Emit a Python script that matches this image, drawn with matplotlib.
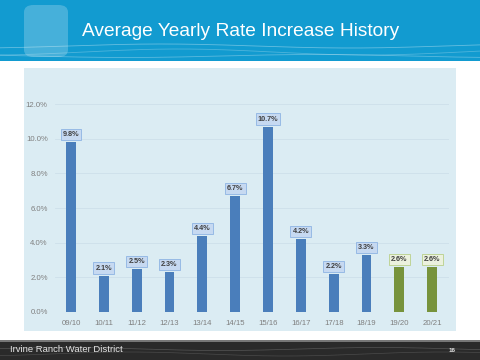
import matplotlib
matplotlib.use("Agg")
import matplotlib.pyplot as plt
from matplotlib.patches import Rectangle, FancyBboxPatch
import numpy as np

categories = ["09/10", "10/11", "11/12", "12/13", "13/14", "14/15", "15/16",
              "16/17", "17/18", "18/19", "19/20", "20/21"]
values = [9.8, 2.1, 2.5, 2.3, 4.4, 6.7, 10.7, 4.2, 2.2, 3.3, 2.6, 2.6]
projected = [False] * 10 + [True, True]
yticks = [0, 2, 4, 6, 8, 10, 12]

plt.rcParams['font.family'] = ['Liberation Sans', 'DejaVu Sans']

fig = plt.figure(figsize=(4.8, 3.6), dpi=100)
W, H = 480, 360

def rect(x0, y0, x1, y1, **kw):
    fig.patches.append(Rectangle((x0 / W, 1 - y1 / H), (x1 - x0) / W, (y1 - y0) / H,
                                 transform=fig.transFigure, **kw))

# banner
rect(0, 0, 480, 61, facecolor="#129bd0", edgecolor="none", zorder=0)
fig.patches.append(FancyBboxPatch((24 / W, 1 - 57 / H), 44 / W, 52 / H,
                                  boxstyle="round,pad=0,rounding_size=0.02",
                                  transform=fig.transFigure, facecolor="#ffffff",
                                  alpha=0.22, edgecolor="none", zorder=1))
xs = np.linspace(0, 480, 200)
for amp, off, a in [(2, 46, 0.35), (3, 52, 0.25), (1.5, 56, 0.3)]:
    ys = off + amp * np.sin(xs / 60 + off)
    fig.lines.append(plt.Line2D(xs / W, 1 - ys / H, transform=fig.transFigure,
                                color="white", alpha=a, lw=0.6, zorder=1))
fig.text(241 / W, 1 - 31 / H, "Average Yearly Rate Increase History", color="white",
         fontsize=13.8, ha="center", va="center", zorder=3)

# footer
rect(0, 341, 480, 360, facecolor="#2a2a2a", edgecolor="none", zorder=0)
rect(0, 340, 480, 341.5, facecolor="#777777", edgecolor="none", zorder=0)
for amp, off, a in [(1.5, 349, 0.2), (2, 354, 0.15)]:
    ys = off + amp * np.sin(xs / 50 + off)
    fig.lines.append(plt.Line2D(xs / W, 1 - ys / H, transform=fig.transFigure,
                                color="white", alpha=a, lw=0.5, zorder=1))
fig.text(10 / W, 1 - 350 / H, "Irvine Ranch Water District", color="#e6e6e6",
         fontsize=6.8, ha="left", va="center", zorder=3)
fig.text(452 / W, 1 - 350 / H, "16", color="#e6e6e6", fontsize=4.5,
         ha="center", va="center", zorder=3, fontweight="bold")

# panel
rect(24, 68, 456, 331, facecolor="#dbecf3", edgecolor="none", zorder=0)

# axes
left_px, right_px = 54.6, 448.6
ymin, ymax = 0, 12.5
bottom_px = 312
top_px = bottom_px - (ymax - ymin) * 17.33
ax = fig.add_axes([left_px / W, 1 - bottom_px / H, (right_px - left_px) / W,
                   (bottom_px - top_px) / H])
ax.set_zorder(5)
ax.set_facecolor("none")
x = np.arange(len(categories))
colors = ["#77933c" if p else "#4a7ebb" for p in projected]
ax.bar(x, values, width=0.3, color=colors, zorder=3)
ax.set_xlim(-0.5, len(categories) - 0.5)
ax.set_ylim(ymin, ymax)
ax.set_yticks(yticks)
ax.set_yticklabels([f"{t:.1f}%" for t in yticks])
ax.set_xticks(x)
ax.set_xticklabels(categories)
ax.tick_params(length=0, labelsize=5.6, labelcolor="#7f7f7f", pad=6)
ax.tick_params(axis="y", pad=5)
for s in ax.spines.values():
    s.set_visible(False)
ax.grid(axis="y", color="#cde0ea", lw=0.6, zorder=0)

for xi, v, p in zip(x, values, projected):
    fc = "#ebf1de" if p else "#c6d9f1"
    ec = "#b9cf8a" if p else "#8eb4e3"
    ax.annotate(f"{v:.1f}%", (xi, v), xytext=(0, 5.4), textcoords="offset points",
                ha="center", va="center", fontsize=5.2, fontweight="bold",
                color="#404040", zorder=4,
                bbox=dict(boxstyle="square,pad=0.3", fc=fc, ec=ec, lw=0.6))

fig.savefig("out.png", dpi=100)
